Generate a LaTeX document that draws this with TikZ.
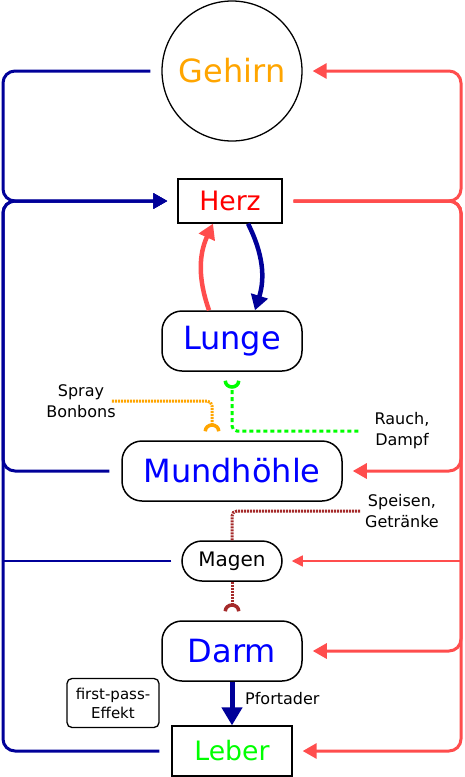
\documentclass[tikz,border=0pt]{standalone}
\usepackage{fontspec}
\setmainfont{DejaVu Sans}
\usetikzlibrary{arrows.meta,shapes}

\definecolor{vene}{RGB}{0,0,153}
\definecolor{arterie}{RGB}{255,77,77}
\definecolor{orangegelb}{RGB}{255,165,0}
\definecolor{braun}{RGB}{165,42,42}
\definecolor{hellgruen}{RGB}{0,255,0}

\begin{document}
\begin{tikzpicture}[
      x=1pt, y=-1pt,
      organ/.style={
        draw,
        line width=1.5pt,
        fill=white,
        rounded corners=20pt,
        minimum width=140pt,
        minimum height=60pt,
        inner sep=0pt,
        text=blue,
        font=\fontsize{32}{36}\selectfont
      },
      kasten/.style={
        draw,
        line width=1.3pt,
        fill=white,
        inner sep=0pt,
        font=\fontsize{26.7}{30}\selectfont
      },
      hinweis/.style={
        align=center,
        inner sep=0pt,
        font=\fontsize{16}{21}\selectfont
      },
      blut/.style={
        line width=3pt,
        rounded corners=12pt
      },
      zufluss/.style={
        blut,
        -{Triangle[length=14pt,width=15pt]}
      },
      schlauch/.style={
        line width=3pt,
        rounded corners=5pt,
        -{Arc Barb[reversed,length=8pt,width=17pt,line width=3.5pt]}
      }
    ]
      \useasboundingbox (0,0) rectangle (464,777);

      \node[circle,draw,line width=1.3pt,minimum size=140pt,inner sep=0pt,
        text=orangegelb,font=\fontsize{32}{36}\selectfont] (gehirn) at (232,71) {Gehirn};
      \node[kasten,minimum width=104pt,minimum height=44pt,text=red] (herz) at (230,201) {Herz};
      \node[organ] (lunge) at (232,341) {Lunge};
      \node[organ,minimum width=220pt] (mund) at (232,471) {Mundhöhle};
      \node[organ,minimum width=100pt,minimum height=40pt,text=black,
        font=\fontsize{20}{24}\selectfont] (magen) at (232,561) {Magen};
      \node[organ] (darm) at (232,651) {Darm};
      \node[kasten,minimum width=120pt,minimum height=50pt,text=hellgruen] (leber) at (232,751) {Leber};
      \node[kasten,rounded corners=5pt,minimum width=92pt,minimum height=49pt,
        align=center,font=\fontsize{15}{19}\selectfont] (effekt) at (113,703) {first-pass-\\Effekt};

      \node[hinweis] (spray) at (81,401) {Spray\\Bonbons};
      \node[hinweis] (rauch) at (402,431) {Rauch,\\Dampf};
      \node[hinweis] (speisen) at (402,511) {Speisen,\\Getränke};
      \node[hinweis,anchor=west] (pfortader) at (245,699) {Pfortader};

      % venoeses Blut zum Herz
      \draw[zufluss,vene] ([xshift=-11pt]gehirn.west) -- (3,71) |- ([xshift=-10pt]herz.west);
      \draw[zufluss,vene] ([xshift=-12pt]mund.west) -- (3,471) |- ([xshift=-10pt]herz.west);
      \draw[zufluss,vene] ([xshift=-12pt]leber.west) -- (3,751) |- ([xshift=-10pt]herz.west);
      \draw[vene,line width=1.5pt] ([xshift=-10pt]magen.west) -- (3,561);

      % arterielles Blut vom Herz
      \draw[zufluss,arterie] ([xshift=11pt]herz.east) -- (461,201) |- ([xshift=10pt]gehirn.east);
      \draw[zufluss,arterie] ([xshift=11pt]herz.east) -- (461,201) |- ([xshift=10pt]mund.east);
      \draw[zufluss,arterie] ([xshift=11pt]herz.east) -- (461,201) |- ([xshift=10pt]darm.east);
      \draw[zufluss,arterie] ([xshift=11pt]herz.east) -- (461,201) |- ([xshift=10pt]leber.east);
      \draw[arterie,line width=1.5pt,-{Triangle[length=11pt,width=11pt]}] (461,561) -- ([xshift=9pt]magen.east);

      % Lungenkreislauf
      \draw[arterie,line width=4.5pt,-{Triangle[length=15pt,width=17pt]}]
        ([xshift=-23pt]lunge.north) to[bend left=22] ([xshift=-17pt]herz.south);
      \draw[vene,line width=4.5pt,-{Triangle[length=15pt,width=17pt]}]
        ([xshift=18pt]herz.south) to[bend left=22] ([xshift=23pt]lunge.north);

      % Pfortader
      \draw[vene,line width=5pt,-{Triangle[length=18pt,width=20pt]}] (darm.south) -- (leber.north);

      % Aufnahme
      \draw[schlauch,orangegelb,dash pattern=on 2pt off 1pt]
        ([xshift=-4pt]spray.east) -| ([xshift=-20pt,yshift=9pt]mund.north);
      \draw[schlauch,hellgruen,dash pattern=on 4pt off 3pt]
        ([xshift=-16pt]rauch.west) -| ([yshift=-9pt]lunge.south);
      \draw[schlauch,braun,dash pattern=on 2pt off 1pt,-]
        ([xshift=-5pt]speisen.west) -| (magen.north);
      \draw[schlauch,braun,dash pattern=on 2pt off 1pt]
        (magen.south) -- ([yshift=9pt]darm.north);
    \end{tikzpicture}
\end{document}
